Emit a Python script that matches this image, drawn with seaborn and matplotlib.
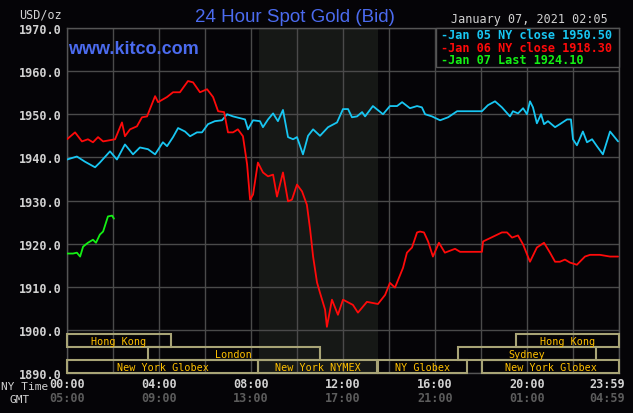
import numpy as np
import pandas as pd
import matplotlib
matplotlib.use("Agg")
import matplotlib.pyplot as plt
import seaborn as sns
from matplotlib.patches import Rectangle
from matplotlib.transforms import blended_transform_factory

# ---------------- data ----------------
jan05_hours = [0, 0.43, 0.78, 1.22, 1.43, 1.87, 2.17, 2.52, 2.87, 3.17, 3.52, 3.83, 4.17, 4.35,
               4.61, 4.83, 5.13, 5.35, 5.65, 5.87, 6.13, 6.43, 6.74, 6.96, 7.22, 7.74, 7.87, 8.09,
               8.39, 8.52, 8.74, 8.96, 9.17, 9.39, 9.61, 9.83, 10.0, 10.26, 10.48, 10.7, 11.0,
               11.35, 11.74, 12.0, 12.22, 12.39, 12.61, 12.83, 12.96, 13.3, 13.74, 14.04, 14.35,
               14.57, 14.91, 15.22, 15.43, 15.57, 15.87, 16.22, 16.57, 16.96, 18.04, 18.3, 18.61,
               18.91, 19.26, 19.39, 19.61, 19.83, 20.0, 20.13, 20.26, 20.43, 20.61, 20.74, 20.91,
               21.22, 21.43, 21.74, 21.91, 22.0, 22.17, 22.43, 22.61, 22.83, 23.04, 23.3, 23.61, 23.96]
jan05_values = [1939.5, 1940.2, 1939.0, 1937.7, 1938.8, 1941.4, 1939.5, 1943.0, 1940.7, 1942.3,
                1941.9, 1940.7, 1943.5, 1942.6, 1944.7, 1946.8, 1946.0, 1944.9, 1945.8, 1945.8,
                1947.7, 1948.4, 1948.6, 1950.0, 1949.5, 1948.8, 1946.5, 1948.6, 1948.4, 1947.0,
                1948.8, 1950.2, 1948.4, 1951.0, 1944.7, 1944.2, 1944.7, 1940.7, 1945.0, 1946.5,
                1945.0, 1947.0, 1948.1, 1951.2, 1951.2, 1949.3, 1949.5, 1950.5, 1949.5, 1951.9,
                1950.0, 1951.9, 1951.9, 1952.8, 1951.4, 1951.9, 1951.6, 1950.0, 1949.5, 1948.6,
                1949.3, 1950.7, 1950.7, 1952.1, 1953.0, 1951.6, 1949.5, 1950.7, 1950.2, 1951.4,
                1950.0, 1953.0, 1951.6, 1947.9, 1950.0, 1947.7, 1948.4, 1947.0, 1947.7, 1948.8,
                1948.8, 1944.2, 1942.8, 1946.0, 1943.5, 1944.2, 1942.6, 1940.7, 1946.0, 1943.7]

jan06_hours = [0, 0.35, 0.65, 0.91, 1.13, 1.35, 1.57, 2.09, 2.39, 2.52, 2.74, 3.04, 3.26, 3.48,
               3.83, 3.96, 4.35, 4.61, 4.91, 5.26, 5.48, 5.78, 6.09, 6.35, 6.57, 6.83, 7.0, 7.22,
               7.43, 7.65, 7.83, 7.96, 8.09, 8.3, 8.52, 8.74, 8.96, 9.13, 9.39, 9.61, 9.78, 10.0,
               10.22, 10.43, 10.57, 10.7, 10.87, 11.0, 11.22, 11.3, 11.52, 11.78, 12.0, 12.43,
               12.65, 13.04, 13.52, 13.83, 14.04, 14.26, 14.61, 14.78, 15.0, 15.22, 15.35, 15.52,
               15.7, 15.91, 16.17, 16.43, 16.87, 17.09, 18.04, 18.09, 18.52, 18.91, 19.13, 19.35,
               19.61, 19.83, 20.13, 20.43, 20.74, 21.0, 21.22, 21.43, 21.65, 21.87, 22.17, 22.52,
               22.74, 23.17, 23.61, 23.96]
jan06_values = [1944.2, 1945.8, 1943.7, 1944.2, 1943.5, 1944.7, 1943.7, 1944.2, 1948.1, 1944.9,
                1946.5, 1947.2, 1949.3, 1949.5, 1954.2, 1952.8, 1954.0, 1955.1, 1955.1, 1957.7,
                1957.4, 1955.1, 1955.8, 1954.0, 1950.7, 1950.5, 1945.8, 1945.8, 1946.5, 1944.9,
                1938.4, 1930.2, 1931.4, 1938.8, 1936.5, 1935.6, 1936.0, 1930.9, 1936.5, 1929.8,
                1930.2, 1933.7, 1932.1, 1929.0, 1923.3, 1917.0, 1911.0, 1908.6, 1904.7, 1900.7,
                1907.0, 1903.5, 1907.0, 1905.8, 1904.0, 1906.5, 1906.0, 1908.1, 1910.9, 1909.8,
                1914.4, 1917.9, 1919.1, 1922.6, 1922.8, 1922.6, 1920.5, 1917.0, 1920.2, 1917.9,
                1918.8, 1918.1, 1918.1, 1920.5, 1921.6, 1922.6, 1922.6, 1921.4, 1921.9, 1919.8,
                1915.8, 1919.1, 1920.2, 1917.9, 1915.8, 1915.8, 1916.3, 1915.6, 1915.1, 1917.0,
                1917.4, 1917.4, 1917.0, 1917.0]

jan07_hours = [0, 0.26, 0.43, 0.57, 0.7, 0.91, 1.13, 1.26, 1.43, 1.57, 1.78, 1.96, 2.04]
jan07_values = [1917.7, 1917.7, 1917.9, 1917.0, 1919.3, 1920.2, 1920.9, 1920.2, 1922.1, 1922.8,
                1926.3, 1926.5, 1925.8]

legend_labels = ["Jan 05 NY close 1950.50", "Jan 06 NY close 1918.30", "Jan 07 Last 1924.10"]

y_ticks = [1890, 1900, 1910, 1920, 1930, 1940, 1950, 1960, 1970]
x_label_pos = [0, 4, 8, 12, 16, 20, 23.48]
ny_labels = ["00:00", "04:00", "08:00", "12:00", "16:00", "20:00", "23:59"]
gmt_labels = ["05:00", "09:00", "13:00", "17:00", "21:00", "01:00", "04:59"]

session_names = ["Hong Kong", "Hong Kong", "London", "Sydney",
                 "New York Globex", "New York NYMEX", "NY Globex", "New York Globex"]
session_start = [0, 19.5, 3.5, 17.0, 0, 8.3, 13.5, 18.04]
session_end = [4.5, 24, 11.0, 23.0, 8.3, 13.5, 17.38, 24]
session_row = [1, 1, 2, 2, 3, 3, 3, 3]

nymex_span = (8.33, 13.5)

# ---------------- style ----------------
sns.set_style("dark")
BG = "#050407"
MONO = ["DejaVu Sans Mono"]
plt.rcParams["font.family"] = ["DejaVu Sans"]

fig = plt.figure(figsize=(6.33, 4.14), dpi=100, facecolor=BG)
ax = fig.add_axes([67 / 633, 1 - 374 / 414, (619 - 67) / 633, (374 - 29) / 414])
ax.set_facecolor(BG)

ax.axvspan(*nymex_span, color="#161816", zorder=0, lw=0)

colors = ["#18c6f2", "#ff0a0a", "#14f014"]
series = [(jan05_hours, jan05_values), (jan06_hours, jan06_values), (jan07_hours, jan07_values)]
for (h, v), c in zip(series, colors):
    df = pd.DataFrame({"hour": h, "price": v})
    sns.lineplot(data=df, x="hour", y="price", color=c, linewidth=1.3, ax=ax,
                 estimator=None, sort=False, zorder=3)

ax.set_xlim(0, 24)
ax.set_ylim(1890, 1970)
ax.set_xticks(np.arange(0, 25, 2))
ax.set_xticklabels([])
ax.set_yticks(y_ticks)
ax.set_yticklabels([f"{v:.1f}" for v in y_ticks], family=MONO, fontweight="bold",
                   fontsize=8.5, color="#d2d2d2")
ax.tick_params(length=0, pad=4)
ax.set_xlabel("")
ax.set_ylabel("")
ax.grid(True, color="#4a4a4a", linewidth=1.0, zorder=1)
for s in ax.spines.values():
    s.set_visible(True)
    s.set_color("#555555")
    s.set_linewidth(1.0)

# session boxes
row_bottom = {1: 1896, 2: 1893, 3: 1890}
for name, s0, s1, r in zip(session_names, session_start, session_end, session_row):
    y0 = row_bottom[r]
    ax.add_patch(Rectangle((s0, y0), s1 - s0, 3, fill=False, edgecolor="#a8a476",
                           linewidth=1.5, zorder=4, clip_on=False))
    ax.text((s0 + s1) / 2, y0 + 1.5, name, ha="center", va="center", family=MONO,
            fontsize=7.3, color="#ffc000", zorder=5)

# x labels
trans = blended_transform_factory(ax.transData, ax.transAxes)
for x, a, b in zip(x_label_pos, ny_labels, gmt_labels):
    ax.text(x, -11 / 345, a, transform=trans, ha="center", va="center", family=MONO,
            fontweight="bold", fontsize=8.5, color="#d2d2d2", clip_on=False)
    ax.text(x, -25 / 345, b, transform=trans, ha="center", va="center", family=MONO,
            fontweight="bold", fontsize=8.5, color="#5c5c5c", clip_on=False)
fig.text(25 / 633, 1 - 387 / 414, "NY Time", ha="center", va="center", family=MONO,
         fontsize=8, color="#d2d2d2")
fig.text(20 / 633, 1 - 400 / 414, "GMT", ha="center", va="center", family=MONO,
         fontsize=8, color="#d2d2d2")
fig.text(62 / 633, 1 - 15 / 414, "USD/oz", ha="right", va="center", family=MONO,
         fontsize=8.5, color="#d2d2d2")

# titles
fig.text(295 / 633, 1 - 17 / 414, "24 Hour Spot Gold (Bid)", ha="center", va="center",
         family=["Liberation Sans"], fontsize=13.5, color="#4b6bef")
fig.text(68 / 633, 1 - 50 / 414, "www.kitco.com", ha="left", va="center",
         family=["Liberation Sans"], fontweight="bold", fontsize=13, color="#4b6bef")
fig.text(608 / 633, 1 - 20 / 414, "January 07, 2021 02:05", ha="right", va="center",
         family=MONO, fontsize=8.5, color="#d2d2d2")

# legend box
lx0, lx1, ly0, ly1 = 436, 619, 29, 68
fig.patches.append(Rectangle((lx0 / 633, 1 - ly1 / 414), (lx1 - lx0) / 633, (ly1 - ly0) / 414,
                             transform=fig.transFigure, facecolor=BG, edgecolor="#555555",
                             linewidth=1.0, zorder=10))
for i, (lab, c) in enumerate(zip(legend_labels, colors)):
    fig.text(441 / 633, 1 - (36 + 12.5 * i) / 414, "-" + lab, ha="left", va="center",
             family=MONO, fontweight="bold", fontsize=8.6, color=c, zorder=11)

fig.savefig("out.png", dpi=100, facecolor=BG)
